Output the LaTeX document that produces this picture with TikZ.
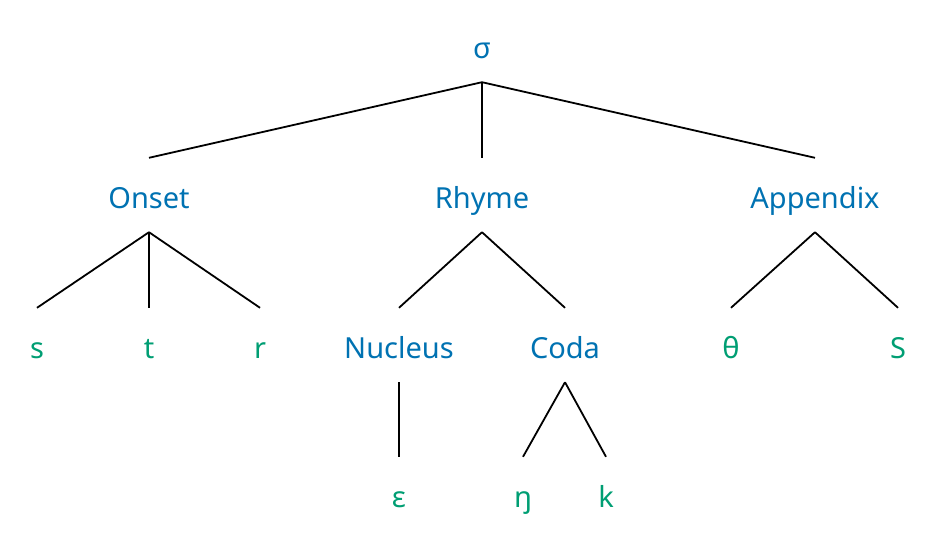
\documentclass[tikz,border=0pt]{standalone}
\usepackage{fontspec}
\setmainfont{Noto Sans}

\definecolor{labelblue}{HTML}{0072B2}
\definecolor{soundgreen}{HTML}{009E73}

\begin{document}
\begin{tikzpicture}[x=1pt, y=-1pt,
  unit/.style={anchor=base, inner xsep=0pt, inner ysep=24pt,
    text height=26pt, text depth=0pt,
    font=\fontsize{29}{34}\selectfont},
  cat/.style={unit, text=labelblue},
  seg/.style={unit, text=soundgreen},
  branch/.style={line width=1.8pt, black}]

\useasboundingbox (0,0) rectangle (938,538);

\node [cat] (syl) at (482,58) {σ};

\node [cat] (onset) at (149,208) {Onset};
\node [cat] (rhyme) at (482,208) {Rhyme};
\node [cat] (app) at (815,208) {Appendix};

\node [seg] (s) at (37,358) {s};
\node [seg] (t) at (149,358) {t};
\node [seg] (r) at (260,358) {r};
\node [cat] (nuc) at (399,358) {Nucleus};
\node [cat] (coda) at (565,358) {Coda};
\node [seg] (th) at (731,358) {θ};
\node [seg] (S) at (898,358) {S};

\node [seg] (eps) at (399,507) {ɛ};
\node [seg] (ng) at (523,507) {ŋ};
\node [seg] (k) at (606,507) {k};

\draw [branch] (syl.south) -- (onset.north);
\draw [branch] (syl.south) -- (rhyme.north);
\draw [branch] (syl.south) -- (app.north);

\draw [branch] (onset.south) -- (s.north);
\draw [branch] (onset.south) -- (t.north);
\draw [branch] (onset.south) -- (r.north);

\draw [branch] (rhyme.south) -- (nuc.north);
\draw [branch] (rhyme.south) -- (coda.north);

\draw [branch] (app.south) -- (th.north);
\draw [branch] (app.south) -- (S.north);

\draw [branch] (nuc.south) -- (eps.north);
\draw [branch] (coda.south) -- (ng.north);
\draw [branch] (coda.south) -- (k.north);

\end{tikzpicture}
\end{document}
